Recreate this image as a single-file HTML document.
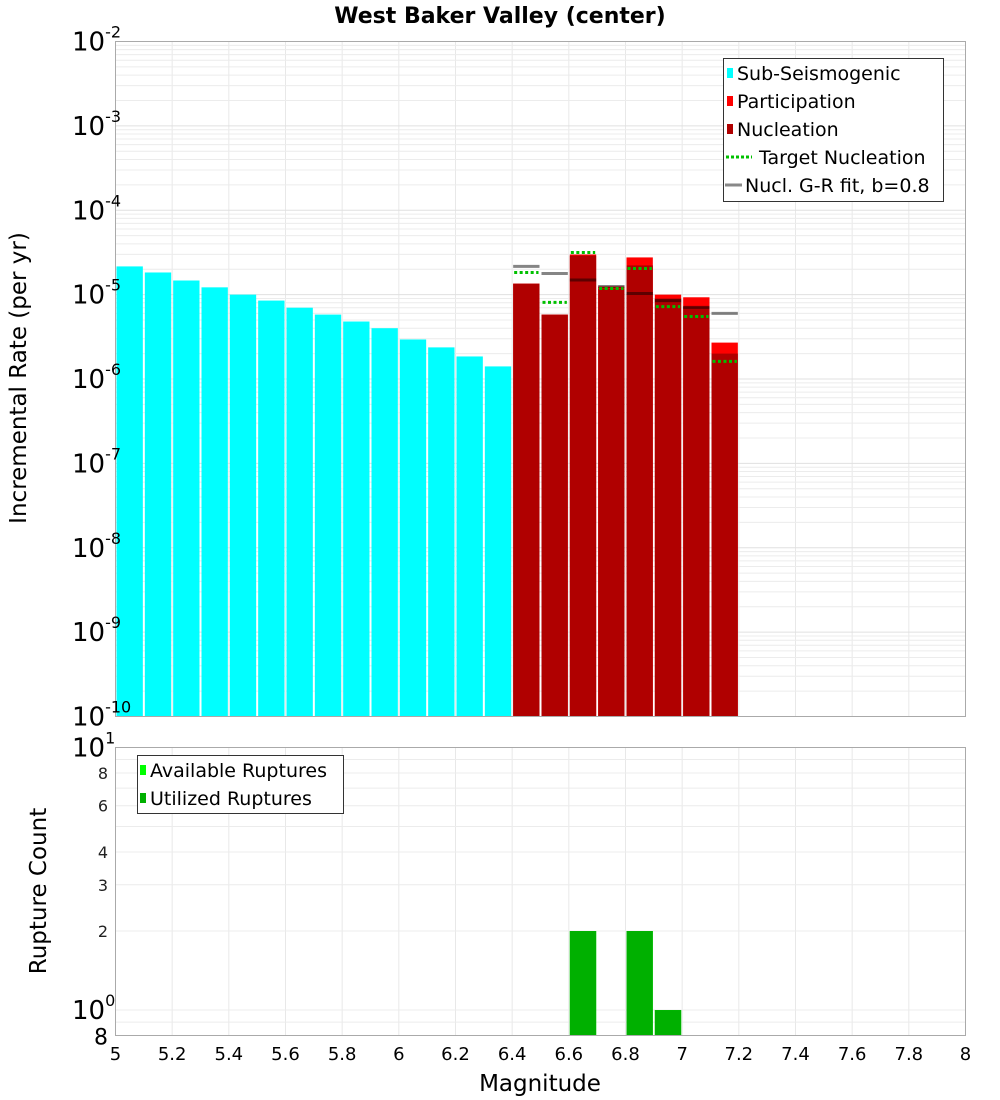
<!DOCTYPE html>
<html><head><meta charset="utf-8"><style>
html,body{margin:0;padding:0;background:#fff;}
svg{display:block;font-family:"DejaVu Sans","Liberation Sans",sans-serif;}
</style></head><body>
<svg id="chart" width="1000" height="1100" xmlns="http://www.w3.org/2000/svg">
<text x="500" y="23" text-anchor="middle" font-size="22" font-weight="bold">West Baker Valley (center)</text>
<g id="top-grid"></g>
<g id="bot-grid"></g>
<g id="top-marks"></g>
<g id="bot-marks"></g>
<rect x="115.5" y="41.5" width="850" height="675" fill="none" stroke="#aaa"/>
<rect x="115.5" y="747.5" width="850" height="288" fill="none" stroke="#aaa"/>
<g id="top-yticks"></g>
<g id="bot-yticks"></g>
<g id="xticks"></g>
<text transform="translate(26,378) rotate(-90)" text-anchor="middle" font-size="23">Incremental Rate (per yr)</text>
<text transform="translate(46,891) rotate(-90)" text-anchor="middle" font-size="23">Rupture Count</text>
<text x="540" y="1091" text-anchor="middle" font-size="23">Magnitude</text>
<g>
<rect x="723.5" y="58.5" width="220" height="143" fill="#fff" stroke="#333"/>
<rect x="727" y="68" width="6" height="10" fill="#00ffff"/>
<text x="737" y="80" font-size="19">Sub-Seismogenic</text>
<rect x="727" y="96" width="6" height="10" fill="#ff0000"/>
<text x="737" y="108" font-size="19">Participation</text>
<rect x="727" y="124" width="6" height="10" fill="#b00000"/>
<text x="737" y="136" font-size="19">Nucleation</text>
<line x1="726" y1="157" x2="752" y2="157" stroke="#00c000" stroke-width="3" stroke-dasharray="3,2"/>
<text x="759" y="164" font-size="19">Target Nucleation</text>
<line x1="725" y1="185" x2="742" y2="185" stroke="#888" stroke-width="3"/>
<text x="745" y="192" font-size="19">Nucl. G-R fit, b=0.8</text>
</g>
<g>
<rect x="137.5" y="755.5" width="206" height="58" fill="#fff" stroke="#333"/>
<rect x="140" y="765" width="6" height="10" fill="#00ff00"/>
<text x="150" y="777" font-size="19">Available Ruptures</text>
<rect x="140" y="793" width="6" height="10" fill="#00b000"/>
<text x="150" y="805" font-size="19">Utilized Ruptures</text>
</g>
</svg>
<script>
const subMags=[5.05,5.15,5.25,5.35,5.45,5.55,5.65,5.75,5.85,5.95,6.05,6.15,6.25,6.35];
const subRates=[2.16e-5,1.83e-5,1.47e-5,1.22e-5,1.0e-5,8.5e-6,7.0e-6,5.8e-6,4.8e-6,4.0e-6,2.94e-6,2.37e-6,1.85e-6,1.41e-6];
const faultMags=[6.45,6.55,6.65,6.75,6.85,6.95,7.05,7.15];
const partRates=[1.35e-5,5.8e-6,2.99e-5,1.25e-5,2.76e-5,1.0e-5,9.3e-6,2.7e-6];
const nuclRates=[1.35e-5,5.8e-6,2.9e-5,1.18e-5,2.22e-5,9.0e-6,7.2e-6,2.0e-6];
const targetRates=[1.83e-5,8.1e-6,3.16e-5,1.18e-5,2.04e-5,7.2e-6,5.5e-6,1.62e-6];
const grRates=[2.16e-5,1.78e-5,1.49e-5,1.25e-5,1.03e-5,8.5e-6,7.05e-6,6.0e-6];
const countMags=[6.65,6.85,6.95];
const availCounts=[2,2,1];
const usedCounts=[2,2,1];
const xTicks=["5","5.2","5.4","5.6","5.8","6","6.2","6.4","6.6","6.8","7","7.2","7.4","7.6","7.8","8"];
const topExps=[-2,-3,-4,-5,-6,-7,-8,-9,-10];
const botTickLabels=["8","6","4","3","2"];

const NS="http://www.w3.org/2000/svg";
const X0=115.5,X1=965.5,XMIN=5,XMAX=8;
const TY0=41.5,TY1=716.5,TLMIN=-10,TLMAX=-2;
const BY0=747.5,BY1=1035.5,BLMIN=Math.log10(0.8),BLMAX=1;
const xs=m=>X0+(m-XMIN)/(XMAX-XMIN)*(X1-X0);
const ty=v=>TY1-(Math.log10(v)-TLMIN)/(TLMAX-TLMIN)*(TY1-TY0);
const by=v=>BY1-(Math.log10(v)-BLMIN)/(BLMAX-BLMIN)*(BY1-BY0);
function mk(tag,attrs,parent){const e=document.createElementNS(NS,tag);for(const k in attrs)e.setAttribute(k,attrs[k]);parent.appendChild(e);return e;}
const tg=document.getElementById('top-grid'),bg=document.getElementById('bot-grid');
const tm=document.getElementById('top-marks'),bm=document.getElementById('bot-marks');
const tyt=document.getElementById('top-yticks'),byt=document.getElementById('bot-yticks'),xt=document.getElementById('xticks');
// grids
xTicks.forEach(t=>{const x=xs(+t);
 let l=mk('line',{x1:x,x2:x,y1:TY0,y2:TY1,stroke:'#e8e8e8'},tg);
 
 l=mk('line',{x1:x,x2:x,y1:BY0,y2:BY1,stroke:'#e8e8e8'},bg);
 
 const tx=mk('text',{x:x,y:1060,'text-anchor':'middle','font-size':'18'},xt);tx.textContent=t;
 
});
for(let e=TLMIN;e<TLMAX;e++){for(let k=1;k<10;k++){const y=ty(k*Math.pow(10,e));
 const l=mk('line',{x1:X0,x2:X1,y1:y,y2:y,stroke:k==1?'#e0e0e0':'#ececec'},tg);
 }}
for(let k=0.8;k<=10.01;k+=(k<1-1e-9?0.1:1)){const y=by(k);
 const l=mk('line',{x1:X0,x2:X1,y1:y,y2:y,stroke:'#ececec'},bg);
 }
// top y ticks
topExps.forEach(e=>{const y=ty(Math.pow(10,e));
 const t=mk('text',{x:72,y:y+9,'font-size':'26'},tyt);
 
 t.textContent='10';
 const s=mk('tspan',{dy:'-13','font-size':'16'},t);s.textContent=String(e);});
// bottom y ticks
botTickLabels.forEach(s=>{const t=mk('text',{x:108,y:by(+s)+6,'text-anchor':'end','font-size':'16',fill:'#222'},byt);t.textContent=s;
 });
[[1,'0'],[10,'1']].forEach(([v,e])=>{const t=mk('text',{x:72,y:by(v)+9,'font-size':'26'},byt);t.textContent='10';
 
 const s=mk('tspan',{dy:'-13','font-size':'16'},t);s.textContent=e;});
{const t=mk('text',{x:108,y:by(0.8)+9,'text-anchor':'end','font-size':'22'},byt);t.textContent='8';
 }
const bw=(X1-X0)/(XMAX-XMIN)*0.1;
function bar(g,m,v,fill,yf,base){const x=xs(m)-bw/2+1,y=yf(v);return mk('rect',{x:x,y:y,width:bw-2,height:base-y,fill:fill},g);}
subMags.forEach((m,i)=>{const r=bar(tm,m,subRates[i],'#00ffff',ty,TY1);
 });
faultMags.forEach((m,i)=>{let r=bar(tm,m,partRates[i],'#ff0000',ty,TY1);
 
 r=bar(tm,m,nuclRates[i],'#b00000',ty,TY1);
 });
faultMags.forEach((m,i)=>{const x=xs(m);let y=ty(grRates[i]);
 let l=mk('line',{x1:x-bw/2+1,x2:x+bw/2-1,y1:y,y2:y,stroke:'rgba(0,0,0,0.48)','stroke-width':3},tm);
 
 y=ty(targetRates[i]);
 l=mk('line',{x1:x-bw/2+2,x2:x+bw/2-2,y1:y,y2:y,stroke:'#00c000','stroke-width':3,'stroke-dasharray':'3,2.5'},tm);
 });
countMags.forEach((m,i)=>{let r=bar(bm,m,availCounts[i],'#00ff00',by,BY1);
 
 r=bar(bm,m,usedCounts[i],'#00b000',by,BY1);
 });
</script>
</body></html>
